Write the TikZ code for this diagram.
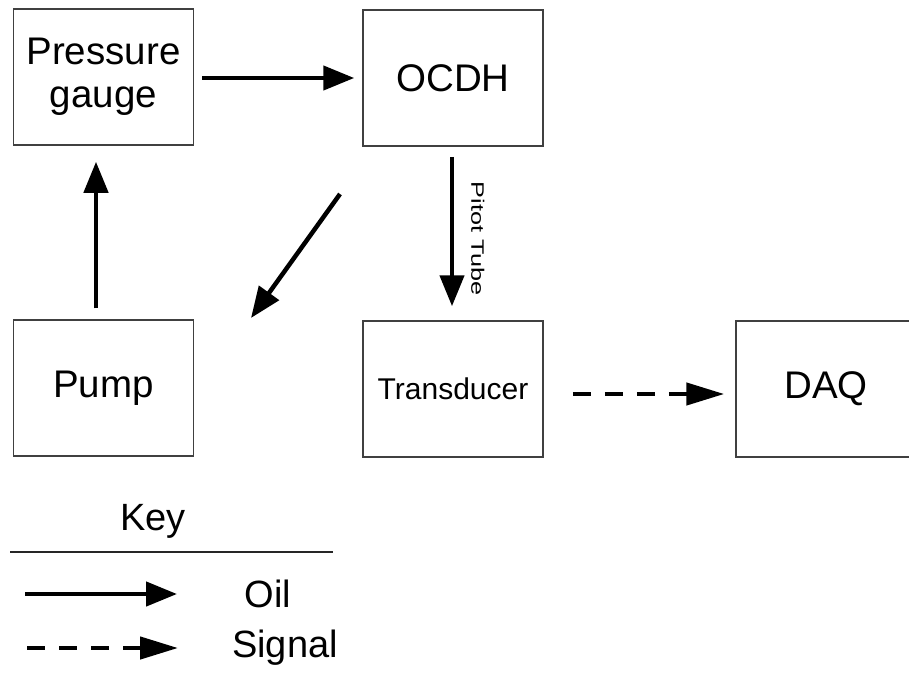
\documentclass[tikz,border=0pt]{standalone}
\usepackage{fontspec}
\setmainfont{Liberation Sans}
\usetikzlibrary{arrows.meta}
\begin{document}
\begin{tikzpicture}[x=1pt,y=-1pt,
  box/.style={draw=black!75,line width=1.5pt,minimum width=180pt,minimum height=136pt,inner sep=0pt,align=center,font=\fontsize{38.5}{43}\selectfont},
  flow/.style={line width=4.5pt,-{Triangle[length=31pt,width=24pt]}},
  sig/.style={line width=4.5pt,-{Triangle[length=38pt,width=22pt]},dash pattern=on 18pt off 14pt},
  lbl/.style={font=\fontsize{38}{42}\selectfont,inner sep=0pt}]
\useasboundingbox[fill=white] (0,0) rectangle (909,672);
\node[box] (pg) at (103.5,77) {Pressure\\gauge};
\node[box] (ocdh) at (453,78) {OCDH};
\node[box] (pump) at (103.5,388) {Pump};
\node[box,font=\fontsize{30}{34}\selectfont] (tr) at (453,389) {Transducer};
\node[box] (daq) at (826,389) {DAQ};
\draw[flow,shorten <=8pt,shorten >=8pt] ([yshift=-1pt]pg.east) -- (ocdh.west);
\draw[flow,shorten <=11pt,shorten >=16pt] ([xshift=-7.5pt]pump.north) -- ([xshift=-7.5pt]pg.south);
\coordinate (d1) at (340,194);
\coordinate (d2) at (251,318);
\draw[flow] (d1) -- (d2);
\draw[flow,shorten <=10pt,shorten >=14pt] ([xshift=-1pt]ocdh.south) -- node[pos=0.53,right=17pt,rotate=-90,anchor=south,inner sep=0pt] (pt) {\scalebox{1.4}[1]{\fontsize{18}{20}\selectfont Pitot Tube}} ([xshift=-1pt]tr.north);
\draw[sig,shorten <=29pt,shorten >=11pt] ([yshift=-5pt]tr.east) -- ([yshift=-5pt]daq.west);
% key
\node[lbl] (key) at (153,521) {Key};
\coordinate (k1) at (10,552);
\coordinate (k2) at (333,552);
\draw[line width=2pt,black!85] (k1) -- (k2);
\coordinate (o1) at (25,594);
\coordinate (o2) at (177,594);
\draw[flow] (o1) -- (o2);
\node[lbl] (oil) at (268,594) {Oil};
\coordinate (s1) at (27,648);
\coordinate (s2) at (178,648);
\draw[sig] (s1) -- (s2);
\node[lbl] (signal) at (285,648) {Signal};
\end{tikzpicture}
\end{document}
